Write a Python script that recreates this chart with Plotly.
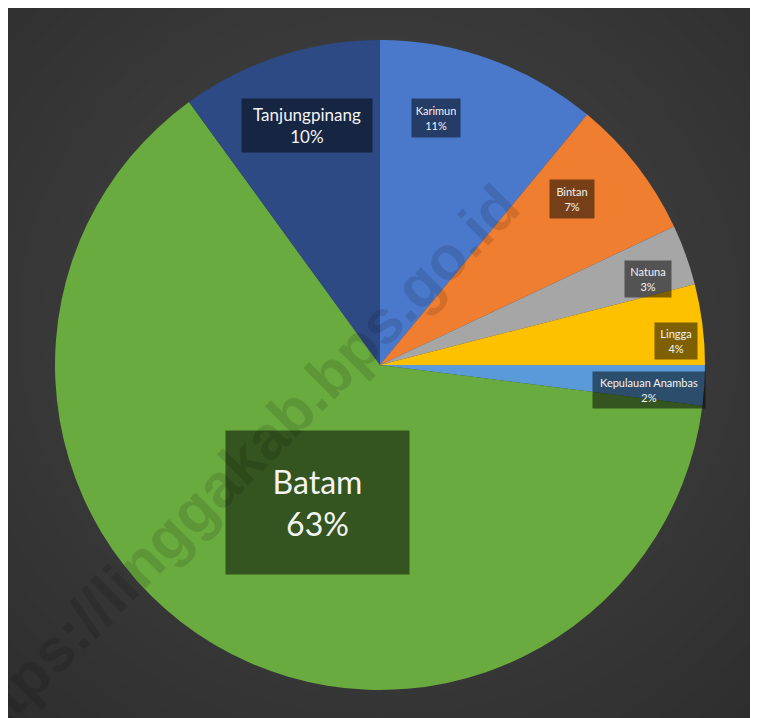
import math

import plotly.graph_objects as go

# data (clockwise from 12 o'clock)
regions = ["Karimun", "Bintan", "Natuna", "Lingga", "Kepulauan Anambas", "Batam", "Tanjungpinang"]
shares = [11, 7, 3, 4, 2, 63, 10]
pct_labels = ["11%", "7%", "3%", "4%", "2%", "63%", "10%"]

colors = ["#4a79cc", "#ef7e30", "#a6a6a6", "#fdc100", "#5a9ad8", "#69ab3e", "#2d4a84"]

# label styling: font size, box size, distance from centre (fraction of radius), angle nudge (deg)
label_font = [11, 11, 11, 11, 11, 32, 17]
label_box = [(40, 30), (36, 30), (38, 28), (34, 28), (104, 28), (175, 135), (122, 45)]
label_dist = [0.78, 0.78, 0.865, 0.915, 0.83, 0.465, 0.77]
label_nudge = [-7, -3, 2, 2.6, 1.7, -6, 1]

# the page puts the figure 8px in from the corner
OFF = 8
W, H = 758 - OFF, 718 - OFF
cx_px, cy_px, r_px = 380 - OFF, 365 - OFF, 325

fig = go.Figure()
fig.add_trace(
    go.Pie(
        labels=regions,
        values=shares,
        sort=False,
        direction="clockwise",
        rotation=0,
        marker=dict(colors=colors, line=dict(width=0)),
        textinfo="none",
        hoverinfo="label+percent",
        showlegend=False,
        domain=dict(x=[(cx_px - r_px) / W, (cx_px + r_px) / W],
                    y=[1 - (cy_px + r_px) / H, 1 - (cy_px - r_px) / H]),
    )
)

# label boxes placed from the slice angles
total = sum(shares)
cum = 0
annotations = []
for i, (name, v) in enumerate(zip(regions, shares)):
    mid = (cum + v / 2) / total * 360 + label_nudge[i]
    cum += v
    rr = label_dist[i] * r_px
    x = cx_px + rr * math.sin(math.radians(mid))
    y = cy_px - rr * math.cos(math.radians(mid))
    w, h = label_box[i]
    annotations.append(
        dict(
            x=x / W, y=1 - y / H, xref="paper", yref="paper",
            xanchor="center", yanchor="middle",
            text=f"{name}<br>{pct_labels[i]}",
            showarrow=False,
            font=dict(family="Lato, Noto Sans, sans-serif", size=label_font[i], color="#f4f4f4"),
            bgcolor="rgba(0,0,0,0.5)",
            width=w, height=h, borderpad=4,
            align="center", valign="middle",
        )
    )

# watermark
annotations.append(
    dict(
        x=(234 - OFF) / W, y=1 - (470 - OFF) / H, xref="paper", yref="paper",
        xanchor="center", yanchor="middle",
        text="<b>https://linggakab.bps.go.id</b>",
        showarrow=False, textangle=-45,
        font=dict(family="Liberation Sans, Arial, sans-serif", size=61, color="rgba(0,0,0,0.12)"),
    )
)

# background with a soft radial glow
shapes = [
    dict(type="rect", xref="paper", yref="paper", x0=0, x1=1, y0=0, y1=1,
         fillcolor="#2d2d2d", line=dict(width=0), layer="below")
]
for k in range(24):
    rx = 560 - k * 22
    ry = 540 - k * 21
    shapes.append(
        dict(type="circle", xref="paper", yref="paper",
             x0=(cx_px - rx) / W, x1=(cx_px + rx) / W,
             y0=1 - (cy_px - 40 + ry) / H, y1=1 - (cy_px - 40 - ry) / H,
             fillcolor="rgba(255,255,255,0.0065)", line=dict(width=0), layer="below")
    )

fig.update_layout(
    width=W, height=H,
    margin=dict(l=0, r=0, t=0, b=0),
    paper_bgcolor="#2d2d2d",
    annotations=annotations,
    shapes=shapes,
)

fig.write_html("out.html")
